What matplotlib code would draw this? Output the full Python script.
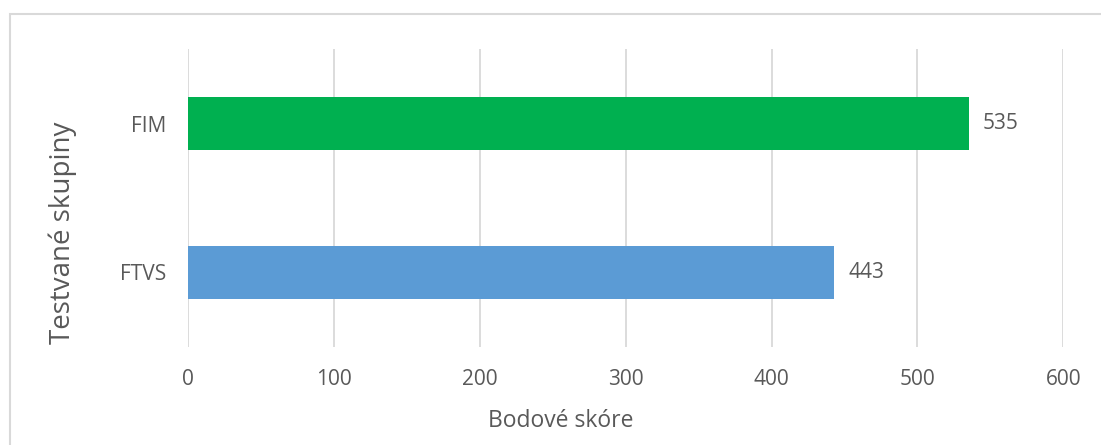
import matplotlib.pyplot as plt
from matplotlib.patches import Rectangle

# scores per group (bottom to top)
groups = ['FTVS', 'FIM']
scores = [443, 535]
colors = ['#5B9BD5', '#00B050']
xticks = [0, 100, 200, 300, 400, 500, 600]

plt.rcParams['font.family'] = ['Open Sans', 'DejaVu Sans']
text_color = '#595959'

fig = plt.figure(figsize=(11.01, 4.45), dpi=100)
ax = fig.add_axes([188.3 / 1101, 1 - 347 / 445, 875 / 1101, 298 / 445])

# light frame around the chart area
fig.patches.append(Rectangle((10 / 1101, -0.1), 1.2, 1 - 14 / 445 + 0.1,
                             transform=fig.transFigure, fill=False,
                             edgecolor='#D9D9D9', linewidth=1.5))

ax.barh(range(len(groups)), scores, height=0.356, color=colors, zorder=3)
for i, v in enumerate(scores):
    ax.text(v + 10, i, str(v), va='center', ha='left', fontsize=15, color=text_color)

ax.set_xlim(0, 600)
ax.set_ylim(-0.5, 1.5)
ax.set_xticks(xticks)
ax.set_yticks(range(len(groups)))
ax.set_yticklabels(groups)
ax.tick_params(axis='both', length=0, labelsize=15, colors=text_color)
ax.tick_params(axis='x', pad=16)
ax.tick_params(axis='y', pad=16)
ax.grid(axis='x', color='#D9D9D9', linewidth=1.3, zorder=0)
for s in ax.spines.values():
    s.set_visible(False)

# axis titles
fig.text(561 / 1101, 1 - 421 / 445, 'Bodové skóre', fontsize=16.5,
         color=text_color, ha='center', va='center')
fig.text(63 / 1101, 1 - 233 / 445, 'Testvané skupiny', rotation=90, fontsize=20,
         color=text_color, ha='center', va='center')

fig.savefig('out.png', dpi=100)
